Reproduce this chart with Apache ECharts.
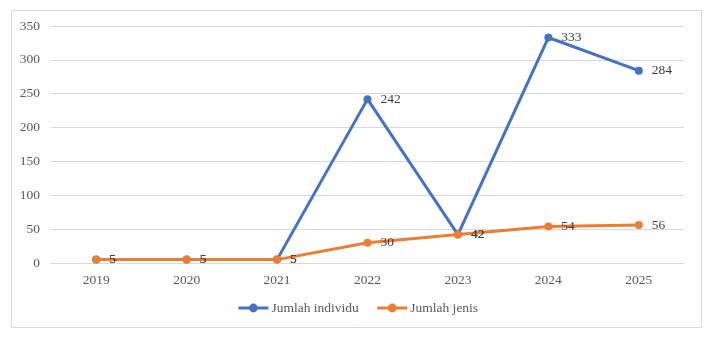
<!DOCTYPE html>
<html>
<head>
<meta charset="utf-8">
<script src="https://cdn.jsdelivr.net/npm/echarts@6/dist/echarts.min.js"></script>
<style>
  html, body { margin: 0; padding: 0; background: #fff; }
  #chart { width: 715px; height: 341px; }
</style>
</head>
<body>
<div id="chart"></div>
<script>
// Yearly counts
const years = ['2019', '2020', '2021', '2022', '2023', '2024', '2025'];
const jumlahIndividu = [5, 5, 5, 242, 42, 333, 284];
const jumlahJenis = [5, 5, 5, 30, 42, 54, 56];
const seriesNames = ['Jumlah individu', 'Jumlah jenis'];

const FONT = '"Liberation Serif", "Times New Roman", serif';
const chart = echarts.init(document.getElementById('chart'));

function lineSeries(name, data, color) {
  return {
    name: name,
    type: 'line',
    data: data,
    symbol: 'circle',
    symbolSize: 8,
    lineStyle: { width: 3, color: color },
    itemStyle: { color: color },
    label: {
      show: true,
      position: 'right',
      distance: 9,
      color: '#404040',
      fontFamily: FONT,
      fontSize: 13.5
    },
    emphasis: { disabled: true },
    animation: false
  };
}

chart.setOption({
  animation: false,
  graphic: [{
    type: 'rect',
    shape: { x: 11.5, y: 10.5, width: 690, height: 317 },
    style: { fill: 'none', stroke: '#d9d9d9', lineWidth: 1 },
    silent: true
  }],
  grid: { left: 51, right: 31, top: 26, bottom: 78 },
  legend: {
    data: seriesNames,
    bottom: 21,
    left: 'center',
    itemWidth: 30,
    itemHeight: 11,
    itemGap: 17,
    lineStyle: { width: 3 },
    textStyle: { color: '#595959', fontFamily: FONT, fontSize: 13.5, padding: [0, 0, 0, -2] }
  },
  xAxis: {
    type: 'category',
    data: years,
    boundaryGap: true,
    axisLine: { show: true, lineStyle: { color: '#d9d9d9' } },
    axisTick: { show: false },
    axisLabel: { color: '#595959', fontFamily: FONT, fontSize: 13.5, margin: 10 }
  },
  yAxis: {
    type: 'value',
    min: 0,
    max: 350,
    interval: 50,
    axisLine: { show: false },
    axisTick: { show: false },
    splitLine: { lineStyle: { color: '#d9d9d9', width: 1 } },
    axisLabel: { color: '#595959', fontFamily: FONT, fontSize: 13.5, margin: 11 }
  },
  series: [
    lineSeries(seriesNames[0], jumlahIndividu, '#4472c4'),
    lineSeries(seriesNames[1], jumlahJenis, '#ed7d31')
  ]
});
</script>
</body>
</html>
